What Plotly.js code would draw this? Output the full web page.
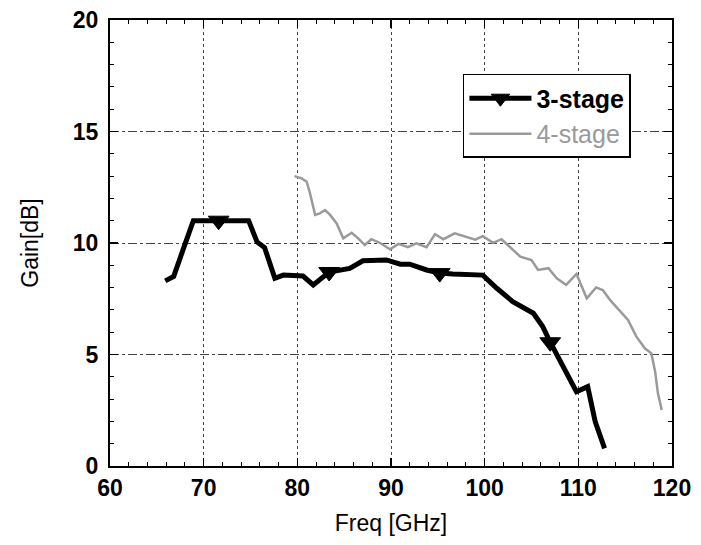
<!DOCTYPE html>
<html>
<head>
<meta charset="utf-8">
<script src="https://cdn.plot.ly/plotly-3.0.1.min.js"></script>
<style>html,body{margin:0;padding:0;background:#fff;}#chart{width:701px;height:545px;}</style>
</head>
<body>
<div id="chart"></div>
<script>
// 3-stage amplifier gain
const freq3 = [65.9, 66.8, 67.8, 68.9, 71.6, 74.8, 75.7, 76.5, 77.6, 78.5, 80.6, 81.7, 83.4, 85.6, 87.0, 89.5, 91.0, 92.0, 93.8, 95.2, 96.6, 98.8, 99.8, 101.3, 103.0, 105.2, 106.2, 107.0, 108.7, 109.8, 111.0, 111.8, 112.8];
const gain3 = [8.3, 8.5, 9.7, 11.0, 11.0, 11.0, 10.05, 9.8, 8.42, 8.56, 8.52, 8.12, 8.7, 8.86, 9.2, 9.24, 9.05, 9.05, 8.79, 8.65, 8.61, 8.56, 8.56, 7.97, 7.37, 6.85, 6.25, 5.55, 4.16, 3.33, 3.56, 1.99, 0.79];
// which 3-stage points carry a triangle marker (1 = marker)
const mark3 = [0,0,0,0,1,0,0,0,0,0,0,0,1,0,0,0,0,0,0,1,0,0,0,0,0,0,0,1,0,0,0,0,0];
// 4-stage amplifier gain
const freq4 = [79.7, 80.45, 81.0, 81.35, 81.9, 82.4, 82.95, 83.5, 84.2, 84.9, 85.8, 86.5, 87.2, 87.9, 88.8, 89.9, 90.8, 91.8, 92.7, 93.8, 94.7, 95.6, 96.8, 98.1, 99.0, 99.8, 100.9, 101.8, 103.0, 103.8, 105.0, 105.7, 106.8, 107.7, 108.7, 109.8, 110.3, 110.9, 111.9, 112.6, 113.4, 114.4, 115.3, 116.2, 117.1, 117.8, 118.2, 118.5, 118.9];
const gain4 = [13.0, 12.9, 12.75, 12.23, 11.26, 11.33, 11.48, 11.26, 10.88, 10.21, 10.46, 10.21, 9.91, 10.17, 10.01, 9.72, 9.96, 9.81, 9.98, 9.81, 10.4, 10.17, 10.43, 10.25, 10.15, 10.31, 10.01, 10.17, 9.69, 9.39, 9.24, 8.79, 8.87, 8.42, 8.12, 8.61, 8.12, 7.52, 8.01, 7.89, 7.44, 6.95, 6.55, 5.8, 5.28, 5.05, 4.23, 3.26, 2.51];
const seriesNames = ['3-stage', '4-stage'];
const xTicks = [60, 70, 80, 90, 100, 110, 120];
const yTicks = [0, 5, 10, 15, 20];

const FONT = 'Liberation Sans, Arial, sans-serif';

// marker points of the 3-stage curve, isolated by gaps so no connecting line is drawn
const markX = freq3.map((f, i) => mark3[i] ? f : null);
const markY = gain3.map((g, i) => mark3[i] ? g : null);

const traces = [
  {
    x: freq3, y: gain3, name: seriesNames[0], showlegend: false,
    type: 'scatter', mode: 'lines',
    line: {color: '#000', width: 5}
  },
  {
    x: markX, y: markY, name: '<b>' + seriesNames[0] + '</b>',
    type: 'scatter', mode: 'lines+markers', connectgaps: false,
    line: {color: '#000', width: 5},
    marker: {symbol: 'triangle-down', color: '#000', size: 18, line: {color: '#000', width: 1}}
  },
  {
    x: freq4, y: gain4, name: '<span style="color:#9a9a9a">' + seriesNames[1] + '</span>',
    type: 'scatter', mode: 'lines',
    line: {color: '#9a9a9a', width: 2.5}
  }
];

const axisCommon = {
  showline: true, linecolor: '#000', linewidth: 2, mirror: 'allticks',
  ticks: 'inside', ticklen: 8, tickwidth: 1.5, tickcolor: '#000',
  showgrid: true, gridcolor: '#444', gridwidth: 1,
  zeroline: false,
  tickfont: {family: FONT, size: 23, color: '#000', weight: 'bold'},
  minor: {ticks: 'inside', ticklen: 4, tickcolor: '#000', tickwidth: 1, showgrid: false}
};

const layout = {
  width: 701, height: 545,
  margin: {l: 110, r: 29, t: 20, b: 79},
  paper_bgcolor: '#fff', plot_bgcolor: '#fff',
  showlegend: true,
  legend: {
    x: 0.628, y: 0.879, xanchor: 'left', yanchor: 'top',
    bgcolor: '#fff', bordercolor: '#000', borderwidth: 1.5,
    font: {family: FONT, size: 25, color: '#000'},
    itemwidth: 62, tracegroupgap: 0
  },
  xaxis: Object.assign({}, axisCommon, {
    range: [60, 120], tickvals: xTicks, ticktext: xTicks.map(String),
    griddash: 'dot',
    minor: Object.assign({}, axisCommon.minor, {dtick: 2, tick0: 60}),
    title: {text: 'Freq [GHz]', font: {family: FONT, size: 23, color: '#000'}, standoff: 15}
  }),
  yaxis: Object.assign({}, axisCommon, {
    range: [0, 20], tickvals: yTicks, ticktext: yTicks.map(String),
    griddash: 'dashdot', ticklabelstandoff: 5,
    minor: Object.assign({}, axisCommon.minor, {dtick: 1, tick0: 0}),
    title: {text: 'Gain[dB]', font: {family: FONT, size: 23, color: '#000'}, standoff: 28}
  })
};

Plotly.newPlot('chart', traces, layout, {displayModeBar: false, staticPlot: true});
</script>
</body>
</html>
